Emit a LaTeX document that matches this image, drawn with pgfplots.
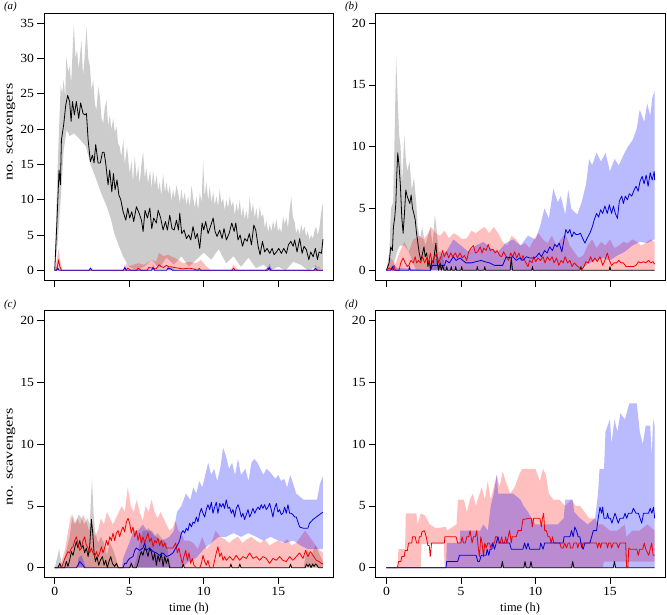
\documentclass[border=0pt]{standalone}
\usepackage{fontspec}
\setmainfont{Liberation Serif}
\newfontfamily\labfont[FakeStretch=1.3]{Liberation Serif}
\newfontfamily\tickfont[FakeStretch=1.1]{Liberation Serif}
\usepackage{pgfplots}
\pgfplotsset{compat=1.18}
\usepgfplotslibrary{fillbetween}
\definecolor{lblue}{RGB}{0,0,215}
\definecolor{lred}{RGB}{240,0,0}
\pgfplotsset{
  panel/.style={
    scale only axis, width=289.7bp, height=267bp,
    xmin=-0.72, xmax=18.72, xtick={0,5,10,15},
    tick align=outside, xtick pos=left, ytick pos=left,
    major tick length=6.5bp,
    tick style={black, line width=0.7bp},
    axis line style={black, line width=1bp},
    tick label style={font=\tickfont\fontsize{12.5}{14}\selectfont},
    /pgf/number format/assume math mode=true,
    clip=true,
  },
  greyband/.style={fill=black, fill opacity=0.2, draw=none},
  redband/.style={fill=red, fill opacity=0.25, draw=none},
  blueband/.style={fill=blue, fill opacity=0.27, draw=none},
  bl/.style={black, line width=0.8bp, line join=round},
  rl/.style={lred, line width=0.8bp, line join=round},
  bbl/.style={lblue, line width=0.8bp, line join=round},
}
\begin{document}
\begin{tikzpicture}
% ---------------- (a)
\begin{axis}[panel, at={(44bp,334.8bp)}, anchor=south west, ymin=-1.4, ymax=36.4, ytick={0,5,...,35}, xticklabels={}]
\addplot[draw=none, name path=aGU] coordinates {(0,0)(0.1,8)(0.2,15)(0.3,20.5)(0.4,26.3)(0.5,25)(0.6,27)(0.7,24.5)(0.78,30.3)(0.9,28)(1.0,28.9)(1.1,26.5)(1.2,31)(1.28,34.8)(1.4,30)(1.5,31.2)(1.6,28.5)(1.7,30.5)(1.79,32.6)(1.9,27.5)(2.0,30)(2.13,34.5)(2.25,30)(2.36,28.9)(2.47,25.5)(2.58,27.0)(2.7,23.5)(2.8,22.7)(2.92,26)(3.03,24.6)(3.14,21.5)(3.25,20.8)(3.36,23)(3.47,24.1)(3.58,20.5)(3.7,22)(3.8,19.9)(3.92,21.5)(4.03,19.5)(4.14,20.4)(4.25,18)(4.36,17.5)(4.47,16.1)(4.6,18.5)(4.7,15)(4.85,17.5)(5.03,13.7)(5.15,15.5)(5.25,12.5)(5.37,16.1)(5.5,13)(5.6,14.8)(5.7,12.2)(5.82,15)(5.93,16.8)(6.05,13)(6.15,14.5)(6.26,12.3)(6.4,14.2)(6.5,11.5)(6.6,14.2)(6.72,12)(6.84,13.5)(6.94,11.2)(7.05,12.5)(7.15,10.5)(7.27,13.7)(7.4,11)(7.5,12.5)(7.61,10.8)(7.72,12)(7.84,9.8)(7.94,11.5)(8.05,10.2)(8.16,12)(8.28,11.0)(8.4,9.5)(8.5,11.5)(8.61,9.8)(8.72,11)(8.84,9.2)(8.95,10.5)(9.07,9.0)(9.18,12)(9.28,10.4)(9.4,8.8)(9.5,10.5)(9.62,8.5)(9.74,11)(9.85,9.5)(9.96,15.4)(10.06,10.4)(10.18,12.5)(10.3,9.8)(10.4,11.9)(10.52,9.5)(10.63,11.2)(10.74,9.2)(10.85,10.5)(10.96,9.0)(11.07,11.5)(11.18,9.5)(11.3,10.2)(11.4,8.5)(11.52,10.0)(11.63,8.8)(11.75,10.5)(11.86,9.0)(11.97,9.8)(12.08,7.8)(12.2,9.5)(12.3,8.2)(12.42,10.0)(12.53,7.5)(12.64,9.0)(12.75,7.2)(12.86,8.5)(12.97,7.0)(13.08,10.4)(13.2,8.0)(13.3,9.5)(13.42,7.4)(13.53,8.8)(13.64,7.0)(13.76,9.0)(13.87,7.5)(13.98,8.0)(14.1,6.0)(14.2,7.0)(14.32,5.4)(14.43,6.5)(14.54,5.5)(14.65,7.0)(14.76,5.8)(14.87,7.3)(14.98,5.5)(15.1,6.0)(15.2,5.3)(15.32,7.6)(15.43,6.5)(15.54,7.5)(15.65,6.0)(15.76,8.5)(15.87,10.4)(15.98,7.5)(16.1,6.8)(16.2,5.2)(16.32,6.0)(16.43,5.0)(16.54,6.5)(16.65,5.5)(16.76,6.2)(16.87,4.8)(16.98,5.5)(17.1,4.3)(17.2,5.0)(17.32,4.5)(17.43,5.5)(17.54,6.2)(17.65,5.0)(17.76,6.0)(17.87,8.0)(17.98,9.5)(18.0,9.0)};
\addplot[draw=none, name path=aGL] coordinates {(0,0)(0.2,4)(0.4,10)(0.6,17)(0.8,19.9)(1.0,19.0)(1.3,19.4)(1.7,18.5)(2.1,17.5)(2.4,15)(2.8,12.8)(3.1,11)(3.5,9.0)(3.8,7)(4.0,5.2)(4.3,3.5)(4.6,1.9)(5.0,0.5)(5.5,0)(6.0,0.5)(6.5,1.5)(7.0,0.3)(7.5,1.8)(8.0,0.8)(8.5,2.0)(9.0,0.5)(9.5,1.5)(10.0,2.5)(10.5,1.5)(11.0,3.0)(11.5,1.0)(12.0,2.0)(12.5,0.5)(13.0,1.8)(13.5,0.3)(14.0,0.8)(14.5,0)(15.0,0.5)(15.5,0)(16.0,1.2)(16.5,0.8)(17.0,0)(17.5,0.5)(18.0,0)};
\addplot[greyband] fill between[of=aGU and aGL];
\addplot[draw=none, name path=aRU] coordinates {(0,0)(0.15,1.5)(0.25,3.0)(0.4,1.0)(0.5,0)(4.7,0)(4.8,1.0)(5.0,0.6)(5.3,0.8)(5.6,1.0)(6.0,0.8)(6.3,1.2)(6.5,1.5)(6.8,1.2)(7.0,2.5)(7.3,2.0)(7.6,2.2)(8.0,1.8)(8.3,1.5)(8.6,1.0)(9.0,1.2)(9.5,1.0)(9.8,1.5)(10.2,0.5)(10.5,0)(11.8,0)(12.0,0.8)(12.3,0)(14.1,0)(14.3,0.6)(14.5,0)(17.5,0)(17.7,0.6)(17.9,0)(18,0)};
\addplot[draw=none, name path=aZ] coordinates {(0,0)(18,0)};
\addplot[redband] fill between[of=aRU and aZ];
\addplot[draw=none, name path=aBU] coordinates {(0,0)(0.15,0.6)(0.3,0)(2.3,0)(2.4,0.5)(2.5,0)(4.6,0)(4.7,0.8)(4.85,0)(6.5,0)(6.6,0.8)(6.75,0)(7.5,0)(7.6,0.6)(7.9,0.3)(8.1,0)(14.3,0)(14.4,1.0)(14.6,0)(17.4,0)(17.5,0.8)(17.7,0)(18,0)};
\addplot[blueband] fill between[of=aBU and aZ];
\addplot[bl] coordinates {(0,0)(0.15,7)(0.29,14.2)(0.38,12.1)(0.45,18.5)(0.6,20.6)(0.74,23.4)(0.87,24.75)(1.0,23.9)(1.1,21.1)(1.19,23.9)(1.32,22)(1.45,23.9)(1.61,21.5)(1.74,23.7)(1.9,22.2)(2.03,22)(2.13,22.2)(2.24,18.5)(2.39,15.4)(2.53,16.3)(2.64,15.2)(2.75,17.8)(2.91,15.2)(3.06,15.2)(3.2,16.7)(3.31,16.7)(3.42,15.2)(3.58,12.1)(3.69,14.2)(3.83,11.1)(3.94,13.7)(4.05,11.4)(4.18,12.8)(4.3,10.7)(4.43,10)(4.59,8.3)(4.77,7.1)(4.9,8.8)(5.03,7.4)(5.17,8.3)(5.3,6.9)(5.48,9.0)(5.66,8.1)(5.82,7.1)(5.93,5.5)(6.06,8.5)(6.22,7.4)(6.38,8.8)(6.51,5.9)(6.64,7.4)(6.82,6.7)(6.94,8.5)(7.11,7.4)(7.27,5.7)(7.43,6.9)(7.56,5.7)(7.72,7.8)(7.87,5.9)(8.01,5.7)(8.17,7.1)(8.3,5.7)(8.39,8.1)(8.52,5.2)(8.68,5.7)(8.84,4.5)(8.99,5.0)(9.13,4.3)(9.28,6.2)(9.44,4.5)(9.57,5.2)(9.73,3.1)(9.89,6.7)(10.0,5.7)(10.13,6.9)(10.29,5.2)(10.45,6.2)(10.63,7.4)(10.76,5.5)(10.89,4.8)(11.07,5.7)(11.23,4.5)(11.36,5.9)(11.52,4.3)(11.7,5.2)(11.88,6.7)(12.04,5.5)(12.15,6.7)(12.3,4.3)(12.44,5.0)(12.6,3.4)(12.75,4.5)(12.91,4.1)(13.06,5.2)(13.2,3.6)(13.36,6.4)(13.49,5.7)(13.65,3.4)(13.78,2.2)(13.94,4.1)(14.09,2.6)(14.25,3.1)(14.43,2.4)(14.59,3.1)(14.72,2.2)(14.88,2.6)(15.03,3.1)(15.21,2.4)(15.37,3.1)(15.55,2.4)(15.68,3.6)(15.84,4.1)(16.0,3.4)(16.1,4.3)(16.26,2.6)(16.44,4.5)(16.6,2.4)(16.73,3.4)(16.89,2.9)(17.05,1.5)(17.18,2.6)(17.34,1.9)(17.49,3.1)(17.63,1.5)(17.74,2.6)(17.9,2.4)(18.0,4.4)};
\addplot[rl] coordinates {(0,0)(0.15,0)(0.25,1.5)(0.35,0.5)(0.45,0)(4.8,0)(4.9,0.3)(5.1,0)(5.5,0)(5.6,0.3)(5.8,0)(6.2,0)(6.3,0.4)(6.6,0.3)(6.8,0.2)(7.0,0.8)(7.15,0.5)(7.3,0.4)(7.5,0.7)(7.65,0.5)(7.8,0.5)(8.0,0.4)(8.3,0.3)(8.6,0.2)(9.0,0.3)(9.3,0.2)(9.6,0)(9.7,0.3)(9.8,0)(11.9,0)(12.0,0.3)(12.1,0)(14.2,0)(14.3,0.3)(14.4,0)(18,0)};
\addplot[bbl] coordinates {(0,0)(0.12,0)(0.2,0.3)(0.3,0)(2.3,0)(2.4,0.3)(2.5,0)(4.6,0)(4.7,0.4)(4.8,0)(6.5,0)(6.6,0.4)(6.7,0)(7.5,0)(7.6,0.3)(7.8,0.2)(7.9,0)(14.3,0)(14.4,0.4)(14.5,0)(17.4,0)(17.5,0.3)(17.6,0)(18,0)};
\end{axis}
% ---------------- (b)
\begin{axis}[panel, at={(375.7bp,334.8bp)}, anchor=south west, ymin=-0.8, ymax=20.8, ytick={0,5,...,20}, xticklabels={}]
\addplot[draw=none, name path=bGU] coordinates {(0,0)(0.2,1.5)(0.3,5)(0.45,5.5)(0.55,11)(0.65,17.3)(0.75,14)(0.85,11)(0.95,10)(1.05,7)(1.2,11)(1.3,9)(1.4,8)(1.55,8.8)(1.7,6.5)(1.85,7.5)(2.0,5.5)(2.1,3.5)(2.25,2.5)(2.4,3.5)(2.6,2)(2.8,2.8)(2.95,3.5)(3.1,2)(3.25,4.5)(3.35,3.5)(3.5,1.5)(3.7,1.5)(3.9,0.5)(4.0,0)(8.3,0)(8.38,1.5)(8.46,0)(18,0)};
\addplot[draw=none, name path=bGL] coordinates {(0,0)(0.5,0.5)(0.7,1.5)(0.9,2)(1.2,2)(1.5,1.5)(1.8,0.5)(2.0,0)(18,0)};
\addplot[greyband] fill between[of=bGU and bGL];
\addplot[draw=none, name path=bRU] coordinates {(0,0)(0.3,1)(0.6,0.5)(0.9,1.5)(1.2,2.3)(1.5,1.5)(1.8,2.5)(2.2,2.8)(2.5,2.5)(2.8,3)(3.0,3.5)(3.3,3.0)(3.6,2.8)(3.9,3.2)(4.2,2.6)(4.5,3)(4.8,2.8)(5.1,2.5)(5.4,2.6)(5.7,3.2)(6.0,3.0)(6.3,3.3)(6.6,3.5)(6.9,3.0)(7.2,3.5)(7.5,3.0)(7.8,2.3)(8.1,2.0)(8.4,2.8)(8.7,2.5)(9.0,2.0)(9.3,2.2)(9.6,1.8)(9.9,2.5)(10.2,3.0)(10.5,2.5)(10.8,2.2)(11.1,2.8)(11.4,2.0)(11.7,2.5)(12.0,3.0)(12.3,2.0)(12.6,1.5)(12.9,1.0)(13.2,1.2)(13.5,2.0)(13.8,2.5)(14.1,1.8)(14.4,2.3)(14.7,2.0)(15.0,2.5)(15.3,1.8)(15.6,2.0)(15.9,2.3)(16.2,2.2)(16.5,2.5)(16.8,2.3)(17.1,2.0)(17.4,2.2)(17.7,2.5)(18,2.3)};
\addplot[draw=none, name path=bZ] coordinates {(0,0)(18,0)};
\addplot[redband] fill between[of=bRU and bZ];
\addplot[draw=none, name path=bBU] coordinates {(0,0)(0.5,0.5)(0.7,0.2)(2.9,0)(3.0,0.8)(3.5,1.0)(4,1.5)(4.5,2.5)(5,2.0)(5.5,1.5)(6,2.0)(6.5,2.3)(7,1.8)(7.5,1.5)(8,2.2)(8.5,2.5)(9,2.0)(9.5,2.8)(10,2.5)(10.3,3.5)(10.6,5.0)(10.9,4.2)(11.2,6.6)(11.5,5.5)(11.7,6.0)(12,4.5)(12.2,6.5)(12.4,5.0)(12.8,4.5)(13.1,5.5)(13.4,7.0)(13.6,9.0)(13.8,8.5)(14.1,9.5)(14.4,8.8)(14.7,9.5)(15.0,8.0)(15.3,9.0)(15.6,8.5)(15.9,9.3)(16.2,10.0)(16.5,10.5)(16.7,11.1)(16.8,11.5)(17.0,13.0)(17.3,12.0)(17.5,13.5)(17.7,12.5)(17.85,14.0)(18.0,14.5)};
\addplot[draw=none, name path=bBL] coordinates {(0,0)(13,0)(13.5,0.5)(14,0.8)(14.5,1.0)(15,0.8)(15.5,1.2)(16,1.5)(16.5,2.0)(17,2.3)(17.5,2.2)(18,2.5)};
\addplot[blueband] fill between[of=bBU and bBL];
\addplot[bl] coordinates {(0,0)(0.18,0.6)(0.29,1.9)(0.4,1.6)(0.47,3.5)(0.56,4.3)(0.63,5.4)(0.7,7.9)(0.76,9.5)(0.85,8.4)(0.94,6.8)(1.03,4.3)(1.12,3.0)(1.21,4.6)(1.3,6.5)(1.39,6.0)(1.48,5.7)(1.57,5.4)(1.66,6.1)(1.75,5.0)(1.84,4.6)(1.93,4.1)(2.02,3.0)(2.11,2.2)(2.2,1.4)(2.31,0.8)(2.43,1.4)(2.52,1.9)(2.6,1.1)(2.7,1.4)(2.78,0.3)(2.87,0.8)(2.96,0)(3.05,0.8)(3.14,0.6)(3.23,1.4)(3.32,2.2)(3.41,0.6)(3.5,0)(3.6,0.6)(3.68,0)(3.77,0.4)(3.86,0)(4.0,0)(4.05,0.3)(4.1,0)(4.3,0)(4.35,0.3)(4.4,0)(4.6,0)(4.65,0.3)(4.7,0)(5.0,0)(5.05,0.3)(5.1,0)(6.05,0)(6.1,0.3)(6.15,0)(6.55,0)(6.6,0.3)(6.65,0)(8.3,0)(8.38,1.0)(8.46,0)(9.75,0)(9.8,0.3)(9.85,0)(13.0,0)(13.05,0.3)(13.1,0)(14.95,0)(15.0,0.3)(15.05,0)(18,0)};
\addplot[rl] coordinates {(0,0)(0.18,0.2)(0.4,0)(0.5,0.4)(0.6,0)(0.85,0)(0.96,0.6)(1.12,1.0)(1.26,0.6)(1.4,0.3)(1.5,0.4)(1.64,0.8)(1.8,0.6)(1.93,1.1)(2.02,0.6)(2.15,0.8)(2.29,0.6)(2.43,1.1)(2.56,0.6)(2.7,1.0)(2.83,0.6)(2.94,1.4)(3.08,0.6)(3.21,1.0)(3.37,1.4)(3.5,0.6)(3.66,1.1)(3.77,1.6)(3.88,1.1)(4.04,1.5)(4.18,1.0)(4.31,1.4)(4.45,1.1)(4.63,1.4)(4.76,1.0)(4.94,1.4)(5.08,1.0)(5.23,1.2)(5.39,0.8)(5.52,1.5)(5.68,1.8)(5.84,2.0)(5.97,1.4)(6.13,1.5)(6.29,1.9)(6.42,1.4)(6.53,1.8)(6.69,1.6)(6.83,2.1)(6.96,1.6)(7.14,1.7)(7.3,1.4)(7.43,1.6)(7.59,1.2)(7.73,1.1)(7.86,1.5)(8.04,1.1)(8.2,0.8)(8.33,1.4)(8.47,1.1)(8.6,1.5)(8.74,1.0)(8.89,1.4)(9.05,0.8)(9.16,1.2)(9.32,0.7)(9.5,0.3)(9.61,0.8)(9.77,0.6)(9.88,1.1)(10.02,0.7)(10.17,1.0)(10.33,0.8)(10.51,1.1)(10.64,0.6)(10.8,1.1)(10.96,0.8)(11.12,1.1)(11.25,0.6)(11.41,1.0)(11.57,0.4)(11.72,0.8)(11.86,0.6)(11.99,1.1)(12.15,0.6)(12.31,0.8)(12.46,0.3)(12.6,0.6)(12.76,0.4)(12.94,0.2)(13.09,0)(13.25,0.3)(13.38,0.7)(13.54,0.6)(13.7,1.1)(13.83,0.7)(13.99,1.0)(14.15,0.7)(14.33,1.1)(14.51,0.4)(14.66,0.8)(14.82,1.4)(14.96,0.8)(15.11,0.4)(15.27,0.6)(15.45,0.6)(15.59,0.8)(15.74,0.6)(15.9,0.6)(16.08,0.3)(16.57,0.3)(16.75,0.4)(16.91,0.7)(17.07,0.6)(17.25,0.7)(17.4,0.6)(17.58,0.8)(17.74,0.6)(17.88,0.7)(18.0,0.5)};
\addplot[bbl] coordinates {(0,0)(0.3,0)(0.4,0.3)(0.5,0)(1.5,0)(1.55,0.3)(1.6,0)(2.95,0)(3.05,0.3)(3.1,0.4)(3.9,0.4)(4.0,0.8)(4.22,0.6)(4.49,1.1)(4.67,0.8)(4.94,1.0)(5.12,0.8)(5.34,0.6)(5.68,0.6)(6.02,0.7)(6.36,0.8)(6.58,0.7)(6.92,0.6)(7.25,0.4)(7.8,0.4)(8.04,1.1)(8.26,1.0)(8.49,1.1)(8.71,0.8)(8.94,1.0)(9.16,0.8)(9.39,1.1)(9.61,1.0)(9.88,1.0)(10.06,1.1)(10.24,1.4)(10.4,1.1)(10.62,1.6)(10.78,1.4)(10.96,1.9)(11.14,1.6)(11.3,2.1)(11.45,1.9)(11.59,2.2)(11.77,1.5)(11.92,2.5)(12.04,3.3)(12.17,3.0)(12.31,3.3)(12.44,2.7)(12.58,3.1)(12.71,2.9)(12.87,2.9)(13.02,3.0)(13.16,2.6)(13.32,2.2)(13.47,2.6)(13.65,3.0)(13.81,3.5)(13.95,4.1)(14.1,4.6)(14.24,4.3)(14.37,4.9)(14.51,4.6)(14.66,5.2)(14.82,4.6)(14.96,5.3)(15.11,4.6)(15.23,5.2)(15.36,4.6)(15.5,4.2)(15.63,5.6)(15.79,6.0)(15.9,5.4)(16.03,6.0)(16.17,5.7)(16.3,6.2)(16.46,6.0)(16.62,6.5)(16.75,6.8)(16.89,6.4)(17.02,7.2)(17.16,7.6)(17.29,7.0)(17.43,7.7)(17.56,6.8)(17.7,7.9)(17.83,7.3)(17.97,8.0)(18.0,7.3)};
\end{axis}
% ---------------- (c)
\begin{axis}[panel, at={(44bp,37.4bp)}, anchor=south west, ymin=-0.8, ymax=20.8, ytick={0,5,...,20}]
\addplot[draw=none, name path=cGU] coordinates {(0,0)(0.3,1.5)(0.5,0)(0.8,1.5)(1.0,2.5)(1.2,4.3)(1.4,3.5)(1.6,4.3)(1.8,4.0)(2.0,3.5)(2.2,4.0)(2.35,3.5)(2.5,7.2)(2.6,4.5)(2.7,3.0)(2.9,2.0)(3.1,2.5)(3.3,2.0)(3.5,1.0)(3.7,2.0)(3.9,1.5)(4.1,0.8)(4.3,0)(5.0,0)(5.1,0.6)(5.3,0)(5.5,0.8)(5.7,2.0)(5.9,3.0)(6.1,3.0)(6.3,3.2)(6.5,2.8)(6.7,2.5)(6.9,2.8)(7.1,2.5)(7.3,2.2)(7.5,2.0)(7.7,0.5)(7.8,0)(16.7,0)(16.9,1.5)(17.2,1.0)(17.5,1.8)(17.8,1.0)(18,0.5)};
\addplot[draw=none, name path=cZ] coordinates {(0,0)(18,0)};
\addplot[greyband] fill between[of=cGU and cZ];
\addplot[draw=none, name path=cRU] coordinates {(0,0)(0.4,0.3)(0.7,1.5)(0.9,3.0)(1.1,4.3)(1.3,3.5)(1.5,4.0)(1.7,3.5)(1.9,4.3)(2.1,3.8)(2.3,3.0)(2.5,3.5)(2.7,2.5)(2.9,3.0)(3.1,4.0)(3.3,3.5)(3.5,4.5)(3.7,4.0)(3.9,3.5)(4.1,4.0)(4.3,4.5)(4.5,5.0)(4.7,4.5)(4.9,6.5)(5.1,5.0)(5.3,4.5)(5.5,5.5)(5.7,4.5)(5.9,3.8)(6.1,5.0)(6.3,4.5)(6.5,5.5)(6.7,4.5)(6.9,4.0)(7.1,4.5)(7.3,4.0)(7.5,3.5)(7.7,3.0)(7.9,3.2)(8.1,3.8)(8.3,3.0)(8.5,2.8)(8.7,2.2)(9.0,2.2)(9.3,2.0)(9.6,1.5)(9.9,2.5)(10.2,1.5)(10.5,2.0)(10.8,3.0)(11.1,2.5)(11.4,2.3)(11.7,2.0)(12.0,2.3)(12.3,2.5)(12.6,2.0)(12.9,2.3)(13.2,2.5)(13.5,2.2)(13.8,2.0)(14.1,2.3)(14.4,1.8)(14.7,2.0)(15.0,2.2)(15.3,2.0)(15.6,2.3)(15.9,1.8)(16.2,2.0)(16.5,2.5)(16.8,3.0)(17.1,2.5)(17.4,2.0)(17.7,1.5)(18,1.2)};
\addplot[redband] fill between[of=cRU and cZ];
\addplot[draw=none, name path=cBU] coordinates {(0,0)(1.5,0)(1.6,0.8)(1.8,1.0)(2.0,0.3)(2.1,0)(4.5,0)(4.6,0.8)(5.0,2.0)(5.3,3.0)(5.6,3.0)(5.9,3.5)(6.2,3.0)(6.5,3.0)(6.8,2.5)(7.1,2.2)(7.4,2.3)(7.7,2.5)(8.0,3.0)(8.2,4.5)(8.5,5.0)(8.8,6.0)(9.1,5.5)(9.3,6.5)(9.5,6.0)(9.7,7.0)(9.9,6.5)(10.1,7.5)(10.3,8.5)(10.5,7.5)(10.7,8.0)(10.9,7.0)(11.1,8.0)(11.3,9.7)(11.5,9.0)(11.7,8.0)(11.9,8.5)(12.1,7.5)(12.3,8.8)(12.5,7.5)(12.8,8.0)(13.0,7.0)(13.2,8.5)(13.4,8.8)(13.6,8.5)(13.8,8.0)(14.0,7.5)(14.2,8.0)(14.4,7.8)(14.6,7.5)(14.8,7.2)(15.0,7.5)(15.2,7.0)(15.4,7.2)(15.6,6.5)(15.8,7.5)(16.0,6.8)(16.2,6.0)(16.4,5.8)(16.7,5.5)(17.0,5.5)(17.3,5.5)(17.6,5.5)(17.8,6.8)(18,7.4)};
\addplot[draw=none, name path=cBL] coordinates {(0,0)(8.5,0)(9,0.5)(9.5,0.8)(10,1.5)(10.5,2.0)(11,2.5)(11.5,2.5)(12,2.8)(12.5,2.5)(13,2.8)(13.5,2.5)(14,2.2)(14.5,2.5)(15,2.2)(15.5,2.0)(16,2.2)(16.5,1.8)(17,1.5)(17.5,1.5)(18,1.5)};
\addplot[blueband] fill between[of=cBU and cBL];
\addplot[bl] coordinates {(0,0)(0.22,0)(0.34,0.35)(0.45,0)(0.67,0)(0.78,0.5)(0.89,0.1)(1.0,0.6)(1.12,1.3)(1.23,1.0)(1.34,1.6)(1.45,2.1)(1.56,1.6)(1.68,2.2)(1.79,1.6)(1.9,1.8)(2.01,1.2)(2.12,1.6)(2.24,0.9)(2.35,1.8)(2.46,3.9)(2.55,2.8)(2.64,1.2)(2.73,0.5)(2.84,0.9)(2.95,0.2)(3.06,0.6)(3.2,0.9)(3.31,0.2)(3.42,0.6)(3.53,0)(3.64,0.5)(3.76,0.9)(3.87,0.35)(4.02,0.1)(4.14,0.35)(4.27,0)(5.03,0)(5.14,0.35)(5.25,0)(5.48,0)(5.59,0.35)(5.7,0.9)(5.81,1.3)(5.92,1.0)(6.04,1.6)(6.15,1.4)(6.26,0.9)(6.37,1.6)(6.48,1.3)(6.6,0.6)(6.71,1.2)(6.82,0.2)(6.93,1.0)(7.04,0.5)(7.15,1.2)(7.27,0.1)(7.38,0.9)(7.49,0.35)(7.6,0.75)(7.71,0)(8.55,0)(8.62,0.3)(8.7,0)(11.75,0)(11.82,0.3)(11.9,0)(12.35,0)(12.42,0.3)(12.5,0)(15.75,0)(15.82,0.3)(15.9,0)(16.8,0)(16.9,0.3)(17.0,0.1)(17.1,0.3)(17.2,0)(17.3,0.3)(17.4,0.1)(17.5,0.3)(17.6,0.2)(17.7,0)(18,0)};
\addplot[rl] coordinates {(0,0)(0.45,0)(0.56,0.35)(0.67,0.75)(0.78,1.0)(0.89,1.3)(1.0,1.2)(1.12,1.6)(1.23,1.7)(1.34,2.2)(1.45,2.5)(1.56,2.0)(1.68,1.4)(1.79,1.6)(1.9,2.2)(2.01,2.5)(2.12,1.8)(2.24,1.6)(2.35,1.2)(2.46,1.6)(2.57,1.2)(2.68,0.9)(2.8,1.3)(2.91,0.9)(3.02,1.2)(3.13,1.7)(3.24,1.2)(3.35,1.6)(3.47,2.2)(3.58,1.8)(3.69,2.5)(3.8,2.2)(3.91,2.8)(4.02,2.2)(4.14,2.8)(4.25,3.0)(4.36,2.5)(4.47,3.0)(4.58,3.3)(4.69,2.9)(4.81,3.7)(4.92,4.0)(5.03,3.6)(5.14,2.8)(5.25,3.3)(5.37,2.5)(5.48,3.0)(5.59,2.2)(5.7,2.8)(5.81,2.0)(5.92,2.5)(6.04,2.0)(6.15,2.4)(6.26,2.8)(6.37,2.1)(6.48,2.4)(6.6,1.7)(6.71,2.2)(6.82,2.0)(6.93,2.4)(7.04,1.8)(7.15,2.2)(7.27,1.7)(7.38,2.0)(7.49,1.6)(7.94,1.6)(8.12,2.0)(8.23,1.2)(8.34,1.6)(8.45,0.9)(8.56,0.35)(8.67,0.9)(8.79,1.4)(8.9,0.6)(9.01,1.2)(9.12,0.35)(9.23,0.75)(9.34,0.2)(9.5,0)(9.73,0)(9.84,0.35)(9.95,1.0)(10.06,0.5)(10.17,0.2)(10.28,0.6)(10.4,0)(10.62,0)(10.73,0.6)(10.84,1.2)(10.95,1.7)(11.07,0.9)(11.18,1.2)(11.29,0.6)(11.4,0.9)(11.51,0.6)(11.74,0.9)(11.96,0.6)(12.18,1.0)(12.41,0.6)(12.63,0.9)(12.86,0.75)(13.08,1.2)(13.3,0.75)(13.53,0.9)(13.75,0.6)(13.97,0.9)(14.2,0.75)(14.42,0.35)(14.64,0.75)(14.87,0.6)(15.09,0.9)(15.31,0.6)(15.54,0.5)(15.76,0.9)(15.98,0.6)(16.21,0.9)(16.43,1.2)(16.66,0.75)(16.83,1.4)(16.99,0.9)(17.15,1.3)(17.33,1.0)(17.55,0.6)(17.73,0.5)(17.89,0.35)(18.0,0.3)};
\addplot[bbl] coordinates {(0,0)(1.45,0)(1.56,0.2)(1.68,0.5)(1.9,0.2)(2.0,0)(4.58,0)(4.69,0.35)(4.81,0.35)(4.92,0.6)(5.03,0.75)(5.25,0.9)(5.37,1.4)(5.48,1.6)(5.7,1.4)(5.92,1.6)(6.04,2.0)(6.15,1.4)(6.37,1.6)(6.6,1.3)(6.82,1.2)(7.04,1.0)(7.27,1.2)(7.49,0.9)(7.71,1.0)(7.94,1.2)(8.12,1.6)(8.23,1.8)(8.38,2.2)(8.5,2.8)(8.61,3.0)(8.72,2.8)(8.83,3.2)(8.94,3.0)(9.05,3.6)(9.17,3.3)(9.28,3.7)(9.39,3.6)(9.5,4.1)(9.61,3.7)(9.73,4.4)(9.84,4.8)(9.95,4.4)(10.06,4.1)(10.17,4.7)(10.28,5.1)(10.4,4.7)(10.51,5.3)(10.62,4.4)(10.73,4.9)(10.84,5.3)(10.95,4.4)(11.07,5.2)(11.18,4.9)(11.29,5.2)(11.4,4.8)(11.51,5.5)(11.63,4.8)(11.74,4.9)(11.85,4.4)(11.96,4.7)(12.07,4.1)(12.18,4.8)(12.3,5.1)(12.41,4.7)(12.52,4.1)(12.63,4.4)(12.74,3.9)(12.86,4.3)(12.97,4.7)(13.08,4.1)(13.19,4.4)(13.3,4.8)(13.42,4.4)(13.53,4.7)(13.64,4.9)(13.75,4.7)(13.86,5.1)(13.97,4.8)(14.08,5.1)(14.2,4.7)(14.31,4.9)(14.42,5.2)(14.53,4.7)(14.64,4.1)(14.75,4.8)(14.87,5.2)(14.98,4.5)(15.09,4.7)(15.2,4.3)(15.31,4.4)(15.43,4.9)(15.54,4.4)(15.65,5.1)(15.76,4.4)(15.87,4.4)(15.98,4.3)(16.1,4.1)(16.21,4.1)(16.32,3.7)(16.43,3.3)(16.66,3.2)(16.99,3.2)(17.1,3.6)(17.33,3.9)(17.55,4.1)(17.77,4.3)(18.0,4.5)};
\end{axis}
% ---------------- (d)
\begin{axis}[panel, at={(375.7bp,37.4bp)}, anchor=south west, ymin=-0.8, ymax=20.8, ytick={0,5,...,20}]
\addplot[draw=none, name path=dRU] coordinates {(0,0)(0.75,0)(0.8,1.5)(1.25,1.5)(1.3,4.4)(2.0,4.4)(2.1,3.5)(2.3,4.4)(2.6,4.2)(2.9,3.5)(3.3,3.2)(4.0,3.3)(4.05,3.0)(4.7,3.5)(4.8,5.5)(5.2,5.5)(5.4,4.5)(5.6,5.5)(5.8,6.0)(6.0,5.0)(6.2,5.8)(6.4,6.5)(6.6,5.5)(6.8,7.0)(7.0,5.5)(7.2,6.5)(7.4,7.5)(7.6,6.5)(7.8,7.8)(8.0,7.0)(8.3,6.0)(8.6,6.5)(8.9,7.5)(9.1,8.0)(9.5,8.0)(10.0,8.0)(10.3,7.0)(10.5,8.0)(10.7,7.5)(10.9,6.0)(11.2,5.5)(11.6,5.5)(12.0,5.0)(12.4,5.5)(12.7,5.0)(13.0,5.0)(13.3,4.5)(13.6,4.0)(14.0,4.0)(14.2,3.5)(14.5,3.5)(15.0,3.0)(15.5,3.0)(16.0,3.5)(16.1,2.5)(16.5,3.0)(17.0,3.0)(17.5,3.5)(18.0,3.0)};
\addplot[draw=none, name path=dRL] coordinates {(0,0)(2.3,0)(2.35,1.9)(3.85,1.9)(3.9,0)(14.5,0)(14.6,0.5)(18,0.5)};
\addplot[redband] fill between[of=dRU and dRL];
\addplot[draw=none, name path=dBU] coordinates {(0,0)(4.0,0)(4.05,2.0)(4.9,2.0)(4.95,3.0)(6.3,3.0)(6.5,3.5)(6.8,3.0)(7.0,5.0)(7.2,6.0)(7.4,7.5)(7.5,6.0)(8.0,6.0)(8.5,6.0)(9.0,5.5)(9.2,5.0)(9.5,4.5)(10.0,3.5)(10.5,3.5)(11.0,3.5)(11.5,3.5)(11.9,4.0)(12.0,5.5)(12.5,5.5)(12.6,4.5)(13.0,4.0)(13.5,3.5)(14.0,4.0)(14.2,6.0)(14.3,8.0)(14.6,8.0)(14.7,11.0)(15.0,12.0)(15.1,10.0)(15.3,12.0)(15.5,11.0)(15.7,12.5)(16.0,12.0)(16.3,13.3)(16.8,13.3)(17.0,11.0)(17.2,10.0)(17.4,11.5)(17.7,11.5)(17.8,9.0)(17.9,12.0)(18.0,11.5)};
\addplot[draw=none, name path=dZ] coordinates {(0,0)(18,0)};
\addplot[blueband] fill between[of=dBU and dZ];
\addplot[bl] coordinates {(0,0)(7.7,0)(7.78,0.5)(7.86,0)(9.22,0)(9.3,0.5)(9.38,0)(9.62,0)(9.7,0.5)(9.78,0)(12.42,0)(12.5,0.5)(12.58,0)(15.22,0)(15.3,0.5)(15.38,0)(18,0)};
\addplot[rl] coordinates {(0,0)(0.74,0)(0.81,0.5)(0.97,0.5)(1.03,0.9)(1.19,0.9)(1.26,1.4)(1.41,1.4)(1.48,2.0)(1.7,2.0)(1.75,2.5)(1.93,2.5)(2.02,2.0)(2.16,2.0)(2.2,2.5)(2.32,2.5)(2.38,2.9)(2.54,3.0)(2.6,2.8)(2.69,2.4)(2.78,1.8)(2.87,1.8)(2.94,0.9)(3.03,2.0)(3.89,2.0)(3.92,2.5)(4.67,2.5)(4.78,2.0)(5.0,2.0)(5.08,2.5)(5.17,2.0)(5.3,2.0)(5.39,2.5)(5.52,2.5)(5.61,3.0)(5.75,2.0)(5.84,2.5)(5.97,2.5)(6.06,3.0)(6.15,1.7)(6.24,0.9)(6.33,2.5)(6.42,2.0)(6.51,0.9)(6.6,2.0)(6.69,1.6)(6.8,2.0)(6.92,2.0)(7.0,1.6)(7.1,2.0)(7.25,2.0)(7.32,2.5)(7.43,2.5)(7.5,2.0)(7.64,2.0)(7.73,2.5)(7.81,2.0)(7.92,2.0)(8.0,2.5)(8.08,2.0)(8.17,2.5)(8.26,3.0)(8.38,2.0)(8.44,2.5)(8.71,2.5)(8.83,3.0)(9.05,3.0)(9.16,3.9)(9.61,4.0)(9.72,4.0)(9.79,3.3)(9.88,4.0)(10.3,4.0)(10.4,3.3)(10.47,4.0)(10.55,4.4)(10.62,3.0)(10.73,3.0)(10.85,2.5)(10.96,2.5)(11.05,2.0)(11.14,2.5)(11.23,2.0)(11.63,2.0)(11.74,1.6)(11.86,1.6)(11.97,2.0)(12.08,1.6)(12.19,2.0)(12.3,2.0)(12.35,1.6)(12.5,1.6)(12.58,2.0)(12.77,2.0)(12.84,1.6)(12.93,2.0)(13.1,2.0)(13.16,1.6)(13.2,2.0)(14.1,2.0)(14.17,1.6)(14.25,2.0)(14.3,2.0)(14.37,1.6)(14.44,2.0)(14.77,2.0)(14.84,1.6)(14.91,2.0)(15.05,2.0)(15.11,1.6)(15.23,2.0)(15.45,2.0)(15.56,1.6)(15.67,2.0)(16.05,2.0)(16.12,0)(16.2,0)(16.26,1.6)(16.35,1.5)(16.8,1.5)(16.9,1.0)(17.0,1.5)(17.2,1.5)(17.3,2.0)(17.4,1.5)(17.6,1.0)(17.7,1.5)(17.8,2.0)(17.9,1.0)(18.0,1.0)};
\addplot[bbl] coordinates {(0,0)(4.0,0)(4.04,0.5)(4.78,0.5)(4.9,1.0)(6.02,1.0)(6.13,0.5)(6.24,0.5)(6.36,1.0)(6.69,1.0)(6.76,1.5)(6.87,1.0)(6.96,1.5)(7.07,1.5)(7.14,2.0)(7.25,1.5)(7.37,2.0)(7.48,2.5)(7.59,2.0)(8.26,2.0)(8.38,1.5)(9.16,1.5)(9.27,2.0)(9.39,1.5)(9.5,2.0)(9.61,1.5)(10.29,1.5)(10.35,2.0)(10.51,1.5)(10.62,2.0)(11.86,2.0)(11.92,2.5)(12.31,2.5)(12.42,3.0)(12.53,2.5)(12.64,3.3)(12.75,3.0)(12.87,2.5)(12.98,2.5)(13.09,1.7)(13.2,1.5)(13.32,2.0)(13.65,2.0)(13.77,2.5)(13.88,3.0)(14.1,3.0)(14.21,4.0)(14.33,4.9)(14.44,4.4)(14.51,4.9)(14.6,4.0)(14.78,4.0)(14.84,4.4)(14.91,4.0)(15.02,4.0)(15.13,3.6)(15.23,4.0)(15.34,4.4)(15.45,4.0)(15.56,3.6)(15.67,4.0)(15.9,4.0)(16.01,4.4)(16.12,4.0)(16.24,4.4)(16.46,4.4)(16.57,4.8)(16.75,4.4)(16.91,4.4)(17.02,4.0)(17.13,3.6)(17.25,4.4)(17.58,4.4)(17.7,4.8)(17.81,4.4)(17.92,4.9)(18.0,4.0)};
\end{axis}
% ---------------- labels
\node[anchor=west, font=\fontsize{11}{13}\selectfont\itshape] at (0.5bp,608bp) {(a)};
\node[anchor=west, font=\fontsize{11}{13}\selectfont\itshape] at (341.5bp,608bp) {(b)};
\node[anchor=west, font=\fontsize{11}{13}\selectfont\itshape] at (0.5bp,310.5bp) {(c)};
\node[anchor=west, font=\fontsize{11}{13}\selectfont\itshape] at (341.5bp,310.5bp) {(d)};
\node[rotate=90, inner sep=0pt, font=\labfont\fontsize{12.5}{14}\selectfont] at (10.8bp,483bp) {no. scavengers};
\node[rotate=90, inner sep=0pt, font=\labfont\fontsize{12.5}{14}\selectfont] at (10.8bp,158bp) {no. scavengers};
\node[inner sep=0pt, font=\fontsize{12.5}{14}\selectfont] at (189bp,6.5bp) {time (h)};
\node[inner sep=0pt, font=\fontsize{12.5}{14}\selectfont] at (520bp,6.5bp) {time (h)};
\pgfresetboundingbox
\useasboundingbox (0bp,0bp) rectangle (667bp,615bp);
\end{tikzpicture}
\end{document}
